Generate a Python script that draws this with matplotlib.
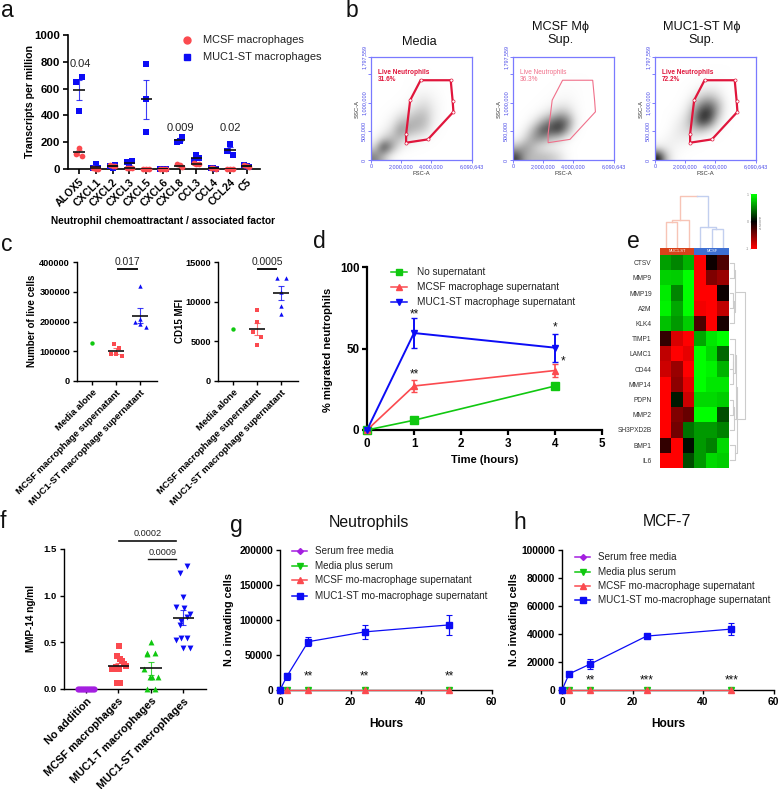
import matplotlib
matplotlib.use('Agg')
import matplotlib.pyplot as plt
from matplotlib.colors import LinearSegmentedColormap, PowerNorm
from matplotlib.lines import Line2D
from matplotlib.patches import Polygon

plt.rcParams['font.family'] = ['Liberation Sans', 'DejaVu Sans']

W, H = 779, 789
RED = '#fb4a4f'
BLUE = '#0c0cf5'
GREEN = '#10c810'
PURPLE = '#a41fe0'

# panel a
a_cats = ['ALOX5', 'CXCL1', 'CXCL2', 'CXCL3', 'CXCL5', 'CXCL6', 'CXCL8', 'CCL3', 'CCL4', 'CCL24', 'C5']
a_muc = [[650, 435, 690], [10, 38, 5], [25, 5, 27], [50, 15, 60], [780, 520, 275], [3, 2, 2],
         [205, 210, 240], [60, 105, 85], [8, 5, 3], [135, 185, 105], [30, 25, 18]]
a_mcsf = [[113, 160, 98], [5, 3, 2], [28, 25, 22], [10, 8, 5], [2, 2, 2], [3, 2, 2],
          [35, 28, 15], [48, 38, 35], [8, 6, 2], [2, 2, 2], [28, 22, 15]]
a_muc_mean = [590, 18, 20, 42, 520, 2, 218, 85, 5, 140, 25]
a_muc_sem = [77, 10, 7, 14, 145, 1, 11, 13, 1, 24, 4]
a_mcsf_mean = [125, 3, 25, 8, 2, 2, 26, 40, 5, 2, 22]
a_mcsf_sem = [18, 1, 2, 2, 0, 0, 6, 4, 2, 0, 4]
a_pvals = {0: (783, '0.04'), 6: (306, '0.009'), 9: (306, '0.02')}

# panel b, darkness of the dot clouds read on a 12x12 grid (top row first)
b_media = [
    [.01, .01, .01, .01, .01, .01, .01, .01, .01, .01, .01, .01],
    [.01, .01, .01, .01, .01, .01, .02, .01, .01, .01, .01, .01],
    [.01, .01, .01, .01, .02, .02, .03, .02, .02, .01, .01, .01],
    [.01, .01, .01, .01, .02, .04, .05, .04, .02, .01, .01, .01],
    [.01, .01, .01, .02, .03, .10, .12, .07, .03, .01, .01, .01],
    [.01, .01, .02, .03, .08, .17, .22, .11, .04, .01, .01, .01],
    [.01, .02, .05, .14, .20, .32, .32, .13, .04, .01, .01, .01],
    [.01, .04, .12, .33, .38, .42, .36, .11, .03, .01, .01, .01],
    [.02, .09, .22, .55, .42, .36, .26, .06, .02, .01, .01, .01],
    [.06, .27, .38, .36, .16, .12, .06, .03, .01, .01, .01, .01],
    [.22, .92, .50, .13, .06, .03, .02, .01, .01, .01, .01, .01],
    [.60, .35, .08, .02, .01, .01, .01, .01, .01, .01, .01, .01]]
b_mcsf = [
    [.01, .01, .01, .01, .01, .01, .01, .01, .01, .01, .01, .01],
    [.01, .01, .01, .01, .01, .01, .01, .01, .01, .01, .01, .01],
    [.01, .01, .01, .01, .01, .02, .02, .02, .02, .01, .01, .01],
    [.01, .01, .01, .01, .02, .03, .04, .03, .02, .01, .01, .01],
    [.01, .01, .01, .02, .03, .05, .06, .04, .02, .01, .01, .01],
    [.01, .01, .02, .03, .07, .13, .13, .06, .02, .01, .01, .01],
    [.01, .02, .04, .12, .22, .38, .32, .09, .02, .01, .01, .01],
    [.01, .04, .16, .42, .62, .78, .62, .13, .02, .01, .01, .01],
    [.02, .13, .42, .78, .78, .88, .47, .06, .01, .01, .01, .01],
    [.06, .27, .52, .52, .36, .26, .09, .02, .01, .01, .01, .01],
    [.37, .52, .32, .16, .11, .07, .03, .01, .01, .01, .01, .01],
    [.82, .42, .36, .36, .32, .22, .06, .01, .01, .01, .01, .01]]
b_muc = [
    [.01, .01, .01, .01, .01, .01, .01, .01, .01, .01, .01, .01],
    [.01, .01, .01, .01, .01, .02, .02, .02, .02, .01, .01, .01],
    [.01, .01, .01, .01, .02, .03, .04, .04, .02, .01, .01, .01],
    [.01, .01, .01, .02, .04, .09, .11, .09, .03, .01, .01, .01],
    [.01, .01, .01, .03, .11, .26, .32, .21, .05, .01, .01, .01],
    [.01, .01, .02, .07, .26, .56, .66, .41, .08, .01, .01, .01],
    [.01, .02, .04, .13, .41, .86, .88, .41, .06, .01, .01, .01],
    [.01, .02, .09, .21, .46, .86, .72, .21, .03, .01, .01, .01],
    [.01, .04, .13, .21, .31, .36, .21, .05, .02, .01, .01, .01],
    [.03, .09, .13, .13, .11, .05, .03, .02, .01, .01, .01, .01],
    [.14, .13, .08, .05, .03, .02, .01, .01, .01, .01, .01, .01],
    [.95, .26, .05, .02, .01, .01, .01, .01, .01, .01, .01, .01]]
gate_fsc = [3.29e6, 5.29e6, 5.42e6, 5.47e6, 3.78e6, 2.33e6, 2.33e6, 2.60e6]
gate_ssc = [1.392e6, 1.392e6, 1.026e6, 0.841e6, 0.360e6, 0.302e6, 0.452e6, 1.044e6]

# panel c
c_cats = ['Media alone', 'MCSF macrophage supernatant', 'MUC1-ST macrophage supernatant']
c_live_media = [127000]
c_live_mcsf = [125000, 112000, 90000, 90000, 83000]
c_live_muc = [318000, 210000, 197000, 192000, 180000]
c_mfi_media = [6550]
c_mfi_mcsf = [8900, 7450, 6200, 5500, 4500]
c_mfi_muc = [13000, 13000, 11200, 9500, 8500]
c_mcsf_dx = [-.11, .11, -.22, 0, .22]
c_live_muc_dx = [0, 0, -.22, 0, .22]
c_mfi_mcsf_dx = [0, 0, -.17, .17, 0]
c_mfi_muc_dx = [-.18, .18, 0, 0, 0]
c_live_stats = [(100000, 10000), (220000, 25000)]
c_mfi_stats = [(6500, 750), (11050, 900)]

# panel d
d_time = [0, 1, 4]
d_none = [0, 6, 27]
d_mcsf = [0, 27, 36.5]
d_mcsf_err = [0, 3.5, 4]
d_muc = [0, 59.5, 50.5]
d_muc_err = [0, 9, 8.5]

# panel e
e_genes = ['CTSV', 'MMP9', 'MMP19', 'A2M', 'KLK4', 'TIMP1', 'LAMC1', 'CD44', 'MMP14', 'PDPN', 'MMP2',
           'SH3PXD2B', 'BMP1', 'IL6']
e_values = [
    [.62, .52, .70, -1, -.05, -.30],
    [.82, .80, 1, -1, -.50, -.60],
    [.92, .52, 1, -1, -1, -.05],
    [.95, .65, 1, -.95, -1, -.75],
    [.75, .60, .80, -.30, -1, -.10],
    [-.20, -.85, -1, .65, .90, 1],
    [-.75, -1, -.90, 1, .85, .40],
    [-.80, -.60, -1, 1, .95, .70],
    [-1, -.55, -.90, 1, .90, .90],
    [-1, .10, -.80, .85, .85, .80],
    [-1, -.50, -.40, 1, 1, .30],
    [-1, -.45, .45, .60, .60, .50],
    [-.20, -1, .05, .60, .50, .85],
    [-1, -1, .30, .60, .85, .80]]

# panel f
f_cats = ['No addition', 'MCSF macrophages', 'MUC1-T macrophages', 'MUC1-ST macrophages']
f_none = [0] * 9
f_none_dx = [-.25, -.19, -.12, -.06, 0, .06, .12, .19, .25]
f_mcsf = [.46, .35, .32, .30, .27, .25, .24, .21, .21, .21, .06, .06]
f_mcsf_dx = [.03, -.05, .05, .11, .17, .24, -.08, -.19, -.10, .03, -.03, .05]
f_muct = [.50, .39, .39, .38, .21, .13, .13, .13, 0, 0]
f_muct_dx = [0, -.12, .12, -.11, -.21, -.03, .03, .21, -.12, .12]
f_muc = [1.32, 1.24, .99, .88, .87, .80, .77, .73, .69, .55, .55, .52, .44, .44]
f_muc_dx = [.12, -.1, 0, -.21, .02, .21, .12, -.08, -.1, -.08, .12, -.21, 0, .21]
f_stats = [(.25, .03), (.22, .07), (.765, .08)]

# panels g and h
gh_time = [0, 2, 8, 24, 48]
gh_zero = [0, 0, 0, 0, 0]
g_muc = [0, 20000, 69000, 83000, 93000]
g_muc_err = [0, 5000, 6500, 10000, 14500]
h_muc = [0, 11500, 18500, 38500, 43500]
h_muc_err = [0, 1000, 3500, 1500, 4500]
g_stars = ['**', '**', '**']
h_stars = ['**', '***', '***']
gh_legend = ['Serum free media', 'Media plus serum', 'MCSF mo-macrophage supernatant',
             'MUC1-ST mo-macrophage supernatant']


def axes_px(fig, x0, top, x1, bottom):
    return fig.add_axes([x0 / W, 1 - bottom / H, (x1 - x0) / W, (bottom - top) / H])


def ftext(fig, x, y, s, **kw):
    kw.setdefault('ha', 'center')
    kw.setdefault('va', 'center')
    return fig.text(x / W, 1 - y / H, s, **kw)


def legend_row(fig, x0, x1, xt, y, color, marker, label, fs, ms=5):
    fig.add_artist(Line2D([x0 / W, x1 / W], [1 - y / H] * 2, color=color, lw=1.1))
    fig.add_artist(Line2D([(x0 + x1) / 2 / W], [1 - y / H], marker=marker, color=color, ms=ms, lw=0))
    ftext(fig, xt, y, label, ha='left', fontsize=fs, color='#222222')


def style(ax, lw=1.2, size=7.5, length=3.5):
    ax.spines['top'].set_visible(False)
    ax.spines['right'].set_visible(False)
    ax.spines['left'].set_linewidth(lw)
    ax.spines['bottom'].set_linewidth(lw)
    ax.tick_params(width=lw, length=length, labelsize=size, pad=2)
    for t in ax.get_yticklabels():
        t.set_fontweight('bold')
    for t in ax.get_xticklabels():
        t.set_fontweight('bold')
    ax.patch.set_alpha(0)


def mean_sem(ax, x, mean, sem, color, half=.33, lw=1.2):
    if sem:
        ax.errorbar([x], [mean], yerr=[sem], color=color, capsize=2.5, lw=.8, capthick=.8, clip_on=False,
                    alpha=.8, zorder=3)
    ax.plot([x - half, x + half], [mean, mean], color='#111111', lw=lw, zorder=4, solid_capstyle='butt')


def dots(ax, x, dx, values, color, marker, size):
    ax.scatter([x + d for d in dx], values, color=color, marker=marker, s=size, lw=0, clip_on=False, zorder=3)


def cat_labels(ax, cats):
    ax.set_xticks(range(len(cats)))
    ax.set_xticklabels(cats, rotation=45, ha='right', rotation_mode='anchor')


fig = plt.figure(figsize=(W / 100, H / 100), dpi=100)

for x, y, s in [(1, 17, 'a'), (346, 17, 'b'), (1, 251, 'c'), (313, 248, 'd'), (627, 248, 'e'),
                (0, 528, 'f'), (230, 532, 'g'), (513, 529, 'h')]:
    ftext(fig, x, y, s, fontsize=16.5, color='#111111', ha='left', va='baseline')

# --- a
ax = axes_px(fig, 68, 35, 260, 169)
ax.set_xlim(-.656, 10.79)
ax.set_ylim(0, 1000)
ax.set_yticks(range(0, 1001, 200))
cat_labels(ax, a_cats)
style(ax, size=8.2)
ax.tick_params(axis='x', labelsize=7.6)
for i in range(len(a_cats)):
    mean_sem(ax, i, a_muc_mean[i], a_muc_sem[i], BLUE)
    dx = [0, 0, 0] if i == 4 else [-.16, 0, .16]
    dots(ax, i, dx, a_muc[i], BLUE, 's', 14)
    mean_sem(ax, i, a_mcsf_mean[i], a_mcsf_sem[i], RED)
    dots(ax, i, [-.16, 0, .16], a_mcsf[i], RED, 'o', 17)
for i, (y, s) in a_pvals.items():
    ax.text(i + .05, y, s, ha='center', va='center', fontsize=8, color='#222222')
ftext(fig, 30, 102, 'Transcripts per million', fontsize=7.6, fontweight='bold', rotation=90)
ftext(fig, 163, 221, 'Neutrophil chemoattractant / associated factor', fontsize=7.3, fontweight='bold')
fig.add_artist(Line2D([187 / W], [1 - 40 / H], marker='o', color=RED, ms=5, lw=0))
fig.add_artist(Line2D([187 / W], [1 - 57 / H], marker='s', color=BLUE, ms=4.2, lw=0))
ftext(fig, 203, 40, 'MCSF macrophages', ha='left', fontsize=7.9, color='#222222')
ftext(fig, 203, 57, 'MUC1-ST macrophages', ha='left', fontsize=7.9, color='#222222')

# --- b
grey = LinearSegmentedColormap.from_list('dots', ['#ffffff', '#000000'])
panels = [(371, b_media, 'Media', 419, '31.6%', True), (513, b_mcsf, 'MCSF M\u03d5\nSup.', 561, '36.3%', False),
          (655, b_muc, 'MUC1-ST M\u03d5\nSup.', 702, '72.2%', True)]
for x0, grid, title, tx, pct, strong in panels:
    ax = axes_px(fig, x0, 57, x0 + 100.5, 160)
    ax.imshow(grid, cmap=grey, norm=PowerNorm(1.3, vmin=0, vmax=1), interpolation='bicubic', aspect='auto',
              extent=[0, 6.67e6, 0, 1797559])
    gate_col = '#e0163c' if strong else '#f0708a'
    ax.add_patch(Polygon(list(zip(gate_fsc, gate_ssc)), fill=False, edgecolor=gate_col, lw=1.6 if strong else .8))
    if strong:
        ax.scatter(gate_fsc, gate_ssc, s=5, facecolor='white', edgecolor=gate_col, lw=.5, zorder=3)
    ax.text(.45e6, 1.53e6, 'Live Neutrophils', color=gate_col, fontsize=4.7, va='center',
            fontweight='bold' if strong else 'normal')
    ax.text(.45e6, 1.40e6, pct, color=gate_col, fontsize=4.7, va='center', fontweight='bold' if strong else 'normal')
    ax.set_xlim(0, 6.67e6)
    ax.set_ylim(0, 1797559)
    ax.set_xticks([0, 2e6, 4e6, 6.67e6])
    ax.set_xticklabels(['0', '2,000,000', '4,000,000', '6,090,643'], fontsize=3.9, color='#4a4ae8')
    ax.set_yticks([0, .5e6, 1e6, 1.5e6, 1797559])
    ax.set_yticklabels(['0', '500,000', '1,000,000', '', '1,797,559'], fontsize=3.9, color='#4a4ae8', rotation=90,
                       va='center')
    ax.tick_params(length=2, width=.6, color='#6a6aff', pad=1.2)
    for side in ax.spines.values():
        side.set_color('#7a7aff')
        side.set_linewidth(.9)
    ax.set_xlabel('FSC-A', fontsize=4.2, labelpad=.8, color='#333333')
    ax.set_ylabel('SSC-A', fontsize=4.2, labelpad=1, color='#333333')
    ftext(fig, tx, 42 if '\n' not in title else 33.5, title, fontsize=9.2, color='#111111', linespacing=1.05)

# --- c
for x0, live, tops, stats, label, yl_x, p, (lx0, lx1), mcsf_dx, muc_dx, ticks in [
    (77, (c_live_media, c_live_mcsf, c_live_muc), 400000, c_live_stats, 'Number of live cells', 32, '0.017',
     (1.07, 1.85), c_mcsf_dx, c_live_muc_dx, range(0, 400001, 100000)),
    (218, (c_mfi_media, c_mfi_mcsf, c_mfi_muc), 15000, c_mfi_stats, 'CD15 MFI', 180, '0.0005',
     (1.04, 1.79), c_mfi_mcsf_dx, c_mfi_muc_dx, range(0, 15001, 5000))]:
    ax = axes_px(fig, x0, 262, x0 + 80, 381)
    ax.set_xlim(-.64, 2.69)
    ax.set_ylim(0, tops)
    ax.set_yticks(list(ticks))
    cat_labels(ax, c_cats)
    style(ax, size=6.6, lw=1, length=3)
    ax.tick_params(axis='x', labelsize=6.8)
    dots(ax, 0, [0], live[0], GREEN, 'o', 10)
    dots(ax, 1, mcsf_dx, live[1], RED, 's', 9)
    dots(ax, 2, muc_dx, live[2], BLUE, '^', 10)
    mean_sem(ax, 1, *stats[0], RED)
    mean_sem(ax, 2, *stats[1], BLUE)
    ax.plot([lx0, lx1], [tops * .945] * 2, color='#111111', lw=1.4, clip_on=False)
    ax.text((lx0 + lx1) / 2, tops * 1.0, p, ha='center', va='center', fontsize=7.4, color='#222222')
    ftext(fig, yl_x, 321, label, fontsize=7, fontweight='bold', rotation=90)

# --- d
ax = axes_px(fig, 367, 267, 602, 430)
ax.set_xlim(0, 5)
ax.set_ylim(0, 100)
ax.set_yticks([0, 50, 100])
ax.set_xticks(range(6))
style(ax, lw=1.6, size=8.4, length=3.5)
ax.plot(d_time, d_none, color=GREEN, marker='s', ms=5.5, lw=1.2, clip_on=False, zorder=3)
ax.errorbar(d_time, d_mcsf, yerr=d_mcsf_err, color=RED, marker='^', ms=5, lw=1.2, capsize=2.5, clip_on=False, zorder=4)
ax.errorbar(d_time, d_muc, yerr=d_muc_err, color=BLUE, marker='v', ms=5, lw=1.4, capsize=2.5, clip_on=False, zorder=5)
for x, y, s in [(1, 71, '**'), (1, 34, '**'), (4, 63, '*'), (4.17, 42, '*')]:
    ax.text(x, y, s, ha='center', va='center', fontsize=8.5, color='#111111')
ax.set_xlabel('Time (hours)', fontsize=8, fontweight='bold', labelpad=4)
ftext(fig, 328, 350, '% migrated neutrophils', fontsize=8, fontweight='bold', rotation=90)
legend_row(fig, 391, 407, 417, 272, GREEN, 's', 'No supernatant', 7.2)
legend_row(fig, 391, 407, 417, 287, RED, '^', 'MCSF macrophage supernatant', 7.2)
legend_row(fig, 391, 407, 417, 302, BLUE, 'v', 'MUC1-ST macrophage supernatant', 7.2)

# --- e
rg = LinearSegmentedColormap.from_list('rg', ['#ff0000', '#000000', '#00ff00'])
ax = axes_px(fig, 660, 255, 729, 468)
ax.imshow(e_values, cmap=rg, vmin=-1, vmax=1, aspect='auto', interpolation='nearest')
ax.set_xticks([])
ax.set_yticks(range(len(e_genes)))
ax.set_yticklabels(e_genes, fontsize=4.8, color='#333333')
ax.tick_params(length=0, pad=6)
for side in ax.spines.values():
    side.set_visible(False)

ax = axes_px(fig, 660, 248, 729, 255)
ax.imshow([[0, 1]], cmap=LinearSegmentedColormap.from_list('ann', ['#d8421a', '#3d6fd2']), aspect='auto',
          interpolation='nearest', extent=[0, 6, 0, 1])
ax.axis('off')
ax.text(1.5, .5, 'MUC1-ST', color='white', fontsize=2.8, ha='center', va='center')
ax.text(4.5, .5, 'MCSF', color='white', fontsize=2.8, ha='center', va='center')

# top dendrogram, merge heights in pixels above the bars
ax = axes_px(fig, 660, 195, 729, 248)
ax.set_xlim(0, 6)
ax.set_ylim(0, 52)
ax.axis('off')
pink, pale = '#f7c4b6', '#c2cfef'
for xs, ys, col in [([.5, .5, 1.5, 1.5], [0, 26, 26, 0], pink), ([1, 1, 2.5, 2.5], [26, 27.5, 27.5, 0], pink),
                    ([3.5, 3.5, 4.85, 4.85], [0, 21, 21, 19], pale), ([4.5, 4.5, 5.5, 5.5], [0, 19, 19, 0], pale),
                    ([1.75, 1.75, 3.2], [27.5, 51.5, 51.5], pink), ([3.2, 4.2, 4.2], [51.5, 51.5, 21], pale)]:
    ax.plot(xs, ys, color=col, lw=1)

# side dendrogram
ax = axes_px(fig, 729.5, 255, 745, 468)
ax.set_xlim(0, 15.5)
ax.set_ylim(14, 0)
ax.axis('off')
for y0, h0, y1, h1, h in [(.5, 0, 1.5, 0, 4), (2.5, 0, 3.5, 0, 3), (3, 3, 4.5, 0, 4), (1, 4, 3.75, 4, 5.5),
                          (6.5, 0, 7.5, 0, 3), (7, 3, 8.5, 0, 3.5), (5.5, 0, 7.75, 3.5, 5),
                          (9.5, 0, 10.5, 0, 3), (10, 3, 11.5, 0, 4), (6.6, 5, 10.75, 4, 6),
                          (12.5, 0, 13.5, 0, 5), (8.7, 6, 13, 5, 7.5), (2.4, 5.5, 10.8, 7.5, 15.3)]:
    ax.plot([h0, h, h, h1], [y0, y0, y1, y1], color='#cccccc', lw=.8, clip_on=False)

# colour key
ax = axes_px(fig, 751, 194, 757, 249)
ax.imshow([[v / 20] for v in range(20, -21, -1)], cmap=rg, vmin=-1, vmax=1, aspect='auto',
          extent=[0, 1, -1, 1])
ax.set_xticks([])
ax.yaxis.tick_left()
ax.set_yticks([-1, 0, 1])
ax.set_yticklabels(['-1', '0', '1'], fontsize=2.6, color='#888888')
ax.tick_params(length=1, width=.3, pad=.5, color='#888888')
for side in ax.spines.values():
    side.set_visible(False)
ftext(fig, 761, 222, 'z-score', fontsize=3.2, color='#888888', rotation=90)

# --- f
ax = axes_px(fig, 64, 549, 206, 689)
ax.set_xlim(-.68, 3.70)
ax.set_ylim(0, 1.5)
ax.set_yticks([0, .5, 1, 1.5])
ax.set_yticklabels(['0.0', '0.5', '1.0', '1.5'])
cat_labels(ax, f_cats)
style(ax, size=6.8, lw=1, length=3)
ax.tick_params(axis='x', labelsize=7.9)
dots(ax, 0, f_none_dx, f_none, PURPLE, 'o', 20)
dots(ax, 1, f_mcsf_dx, f_mcsf, RED, 's', 19)
dots(ax, 2, f_muct_dx, f_muct, GREEN, '^', 18)
dots(ax, 3, f_muc_dx, f_muc, BLUE, 'v', 18)
for i, (m, s), col in zip([1, 2, 3], f_stats, [RED, GREEN, BLUE]):
    mean_sem(ax, i, m, s, col)
ax.plot([1.02, 2.77], [1.582, 1.582], color='#111111', lw=1.2, clip_on=False)
ax.plot([1.9, 2.77], [1.39, 1.39], color='#111111', lw=1, clip_on=False)
ax.text(1.9, 1.665, '0.0002', ha='center', va='center', fontsize=6.6, color='#222222')
ax.text(2.36, 1.46, '0.0009', ha='center', va='center', fontsize=6.6, color='#222222')
ftext(fig, 31, 619, 'MMP-14 ng/ml', fontsize=7.2, fontweight='bold', rotation=90)

# --- g, h
for x0, top_y, step, muc, err, stars, star_y, title, tx, xl, yl_x, leg_x, leg_y in [
    (280, 200000, 50000, g_muc, g_muc_err, g_stars, 20000, 'Neutrophils', 369, 386, 229, (292, 307, 315), (551, 566, 580, 596)),
    (562, 100000, 20000, h_muc, h_muc_err, h_stars, 7000, 'MCF-7', 667, 668, 514, (575, 590, 598), (557, 572, 586, 600))]:
    ax = axes_px(fig, x0, 550, x0 + 211.5, 690)
    ax.set_xlim(0, 60)
    ax.set_ylim(0, top_y)
    ax.set_xticks(range(0, 61, 20))
    ax.set_yticks(range(0, top_y + 1, step))
    style(ax, lw=1, size=7.4, length=3)
    ax.plot(gh_time, gh_zero, color=PURPLE, marker='D', ms=2.5, lw=.8, clip_on=False, zorder=2)
    ax.plot(gh_time, gh_zero, color=GREEN, marker='v', ms=4.5, lw=.8, clip_on=False, zorder=3)
    ax.plot(gh_time, gh_zero, color=RED, marker='^', ms=4.5, lw=.8, clip_on=False, zorder=4)
    ax.errorbar(gh_time, muc, yerr=err, color=BLUE, marker='s', ms=4.6, lw=.9, capsize=2.2, capthick=.8,
                clip_on=False, zorder=5)
    for t, s in zip(gh_time[2:], stars):
        ax.text(t, star_y, s, ha='center', va='center', fontsize=8.5, color='#111111')
    ftext(fig, tx, 522, title, fontsize=11.4, color='#111111')
    ftext(fig, xl, 724, 'Hours', fontsize=8.6, fontweight='bold')
    ftext(fig, yl_x, 620, 'N.o invading cells', fontsize=7.8, fontweight='bold', rotation=90)
    for y, col, mk, lab in zip(leg_y, [PURPLE, GREEN, RED, BLUE], ['D', 'v', '^', 's'], gh_legend):
        legend_row(fig, leg_x[0], leg_x[1], leg_x[2], y, col, mk, lab, 7.1, ms=3 if mk == 'D' else 4.5)

fig.savefig('out.png', dpi=100)
